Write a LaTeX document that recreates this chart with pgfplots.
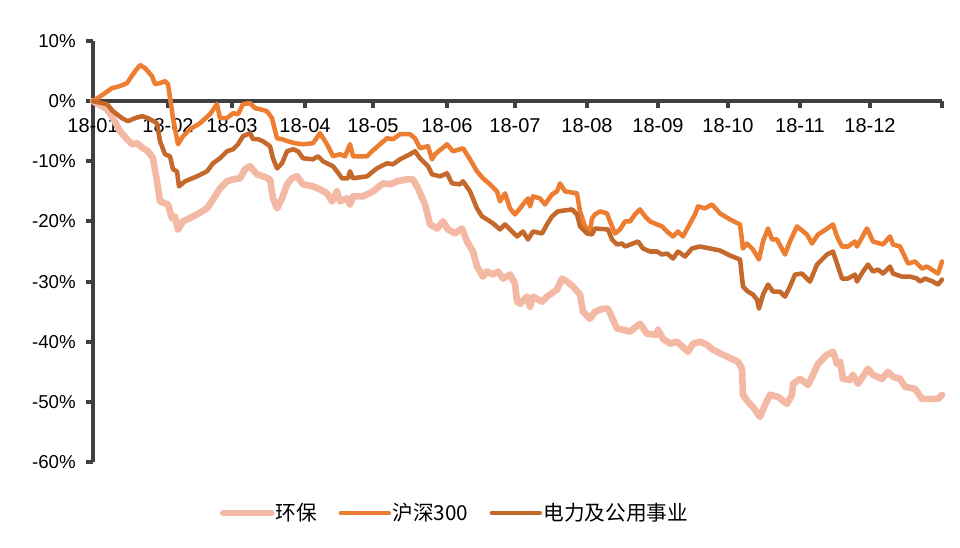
\documentclass[border=0pt]{standalone}
\usepackage{pgfplots}
\pgfplotsset{compat=1.18}
\usepackage{fontspec}
\setmainfont{Liberation Sans}
\newfontfamily\cjk{Noto Sans CJK SC}
\definecolor{cLight}{RGB}{243,185,165}
\definecolor{cOrange}{RGB}{237,125,49}
\definecolor{cBrown}{RGB}{197,104,44}
\definecolor{cAxis}{RGB}{64,64,64}
\begin{document}
\begin{tikzpicture}
\begin{axis}[
  name=ax, at={(0,0)}, anchor=south west,
  scale only axis, width=636.75pt, height=315.75pt,
  xmin=0, xmax=849, ymin=-60, ymax=10,
  axis x line=middle, axis y line=left,
  hide obscured x ticks=false,
  axis line style={-, draw=cAxis, line width=3.4pt},
  xtick style={draw=cAxis, line width=3pt},
  ytick style={draw=cAxis, line width=3pt},
  major tick length=5.5pt,
  tick align=outside,
  xtick={0,75,139,212,280,354,422,494,565,635,707,777,849},
  xticklabels={18-01,18-02,18-03,18-04,18-05,18-06,18-07,18-08,18-09,18-10,18-11,18-12,{}},
  ytick={-60,-50,-40,-30,-20,-10,0,10},
  yticklabel={\pgfmathprintnumber{\tick}\%},
  /pgf/number format/assume math mode=true,
  yticklabel style={font=\fontsize{14}{16}\selectfont, text=black, xshift=-4pt},
  xticklabel style={font=\fontsize{15}{17}\selectfont, text=black, yshift=-4pt},
  clip=false,
  legend columns=3,
  legend style={at={(0.426,-0.121)}, anchor=center, draw=none, fill=none,
    font=\cjk\fontsize{15.5}{17}\selectfont,
    /tikz/every even column/.append style={column sep=15pt},
    nodes={inner xsep=1pt}},
  legend image code/.code={\draw[#1] (0pt,0pt) -- (36pt,0pt);},
  every axis plot/.append style={line join=round, line cap=round},
]
\addplot[cLight, line width=5pt] coordinates {
(0,0) (14,-1.33) (20,-2.83) (27,-5.0) (34,-6.33) (39,-7.17) (44,-7.0) (50,-7.83) (55,-8.33) (60,-9.5)
(64,-13.33) (67,-16.67) (75,-17.17) (79,-19.5) (82,-19.17) (85,-21.33) (90,-20.0) (104,-18.83) (114,-17.83) (120,-16.33)
(127,-14.5) (134,-13.33) (140,-13.0) (147,-12.83) (152,-11.33) (157,-10.83) (164,-12.17) (170,-12.5) (177,-13.0) (180,-16.17)
(184,-17.83) (189,-16.17) (194,-13.83) (199,-12.83) (204,-12.5) (210,-13.83) (220,-14.17) (227,-14.67) (234,-15.33) (239,-16.67)
(244,-15.0) (247,-16.67) (254,-16.17) (257,-17.17) (260,-15.83) (270,-15.83) (280,-15.0) (290,-13.67) (297,-13.83) (304,-13.33)
(314,-13.0) (320,-13.0) (325,-14.5) (332,-17.17) (337,-20.5) (344,-21.17) (350,-20.0) (355,-21.33) (362,-22.0) (369,-21.17)
(374,-23.33) (380,-25.0) (384,-27.5) (390,-29.17) (394,-28.33) (400,-28.83) (405,-28.33) (410,-29.5) (417,-28.83) (422,-30.33)
(424,-33.33) (427,-33.67) (434,-32.5) (437,-34.17) (440,-32.5) (449,-33.33) (454,-32.5) (464,-31.33) (469,-29.5) (474,-30.0)
(480,-30.83) (487,-32.17) (490,-35.0) (497,-36.17) (502,-35.0) (510,-34.5) (515,-34.5) (520,-36.33) (524,-37.83) (530,-38.0)
(537,-38.33) (547,-37.0) (554,-38.67) (564,-38.83) (565,-38.0) (570,-39.5) (577,-40.33) (584,-40.0) (595,-41.67) (600,-40.33)
(607,-40.0) (614,-40.5) (620,-41.33) (630,-42.17) (645,-43.33) (649,-44.5) (650,-48.83) (655,-50.0) (660,-50.83) (662,-51.33)
(667,-52.5) (672,-50.5) (677,-48.83) (685,-49.17) (694,-50.33) (699,-48.83) (700,-47.0) (707,-46.17) (715,-47.17) (720,-45.5)
(725,-43.67) (734,-42.17) (740,-41.67) (744,-43.67) (747,-43.33) (750,-46.17) (757,-46.33) (760,-45.5) (765,-47.0) (775,-44.5)
(780,-45.5) (789,-46.17) (795,-45.0) (800,-45.83) (807,-46.17) (812,-47.5) (822,-47.83) (829,-49.5) (845,-49.5) (849,-48.83)
};
\addlegendentry{环保}
\addplot[cOrange, line width=3.4pt] coordinates {
(0,0) (12,1.33) (19,2.17) (27,2.5) (34,3.0) (40,4.5) (47,6.0) (52,5.5) (59,4.17) (62,2.83)
(67,3.0) (72,3.33) (75,2.83) (80,-2.83) (85,-7.17) (90,-5.83) (97,-4.67) (107,-3.67) (117,-2.17) (124,-0.5)
(127,-2.83) (134,-2.83) (140,-2.0) (145,-2.17) (150,-0.5) (157,-0.33) (162,-1.17) (167,-1.33) (174,-1.67) (179,-2.83)
(184,-6.17) (189,-6.33) (195,-6.67) (202,-7.0) (210,-7.17) (220,-7.0) (227,-5.33) (234,-7.17) (240,-9.17) (247,-8.83)
(252,-9.17) (257,-7.17) (260,-9.17) (274,-9.17) (279,-8.33) (287,-7.17) (294,-6.17) (300,-6.33) (307,-5.5) (317,-5.5)
(322,-6.17) (327,-7.83) (335,-7.5) (339,-9.67) (342,-8.83) (354,-7.17) (360,-8.33) (367,-8.0) (370,-7.83) (377,-9.67)
(384,-11.67) (390,-12.83) (397,-13.83) (404,-15.0) (407,-16.67) (412,-15.33) (417,-17.83) (422,-18.83) (427,-17.83) (430,-17.17)
(435,-16.17) (437,-17.5) (440,-15.83) (447,-16.17) (452,-17.17) (459,-15.5) (464,-15.0) (467,-13.67) (472,-15.0) (484,-15.33)
(487,-18.33) (492,-20.83) (497,-21.67) (499,-19.5) (502,-18.83) (507,-18.33) (514,-18.67) (517,-20.0) (522,-22.0) (527,-21.33)
(532,-20.0) (537,-20.0) (542,-18.83) (547,-18.0) (552,-19.17) (557,-20.0) (564,-20.5) (569,-20.83) (574,-21.67) (580,-22.5)
(585,-21.67) (590,-22.5) (597,-20.33) (602,-18.83) (605,-17.5) (612,-17.83) (619,-17.17) (627,-18.67) (637,-19.67) (647,-20.5)
(650,-24.5) (654,-23.67) (660,-24.67) (666,-26.33) (670,-23.33) (675,-21.17) (679,-23.0) (684,-23.0) (692,-25.5) (697,-23.33)
(704,-20.83) (714,-22.17) (719,-23.67) (725,-22.17) (730,-21.67) (740,-20.5) (744,-22.5) (749,-24.17) (755,-24.17) (762,-23.33)
(764,-24.17) (774,-21.17) (780,-23.33) (790,-23.83) (797,-22.5) (800,-23.83) (807,-24.17) (815,-27.0) (822,-26.67) (829,-27.83)
(834,-27.5) (845,-28.67) (849,-26.67)
};
\addlegendentry{沪深300}
\addplot[cBrown, line width=3.4pt] coordinates {
(0,0) (14,-0.5) (20,-1.67) (29,-2.83) (35,-3.33) (42,-2.83) (49,-2.5) (55,-2.83) (64,-3.67) (67,-6.67)
(72,-8.83) (77,-9.17) (80,-11.33) (84,-11.67) (86,-14.17) (92,-13.33) (104,-12.5) (114,-11.67) (120,-10.33) (127,-9.5)
(134,-8.33) (140,-8.0) (145,-7.17) (150,-5.83) (157,-5.33) (160,-6.33) (165,-6.33) (170,-6.67) (177,-7.5) (180,-9.5)
(184,-11.17) (189,-10.33) (194,-8.33) (200,-8.0) (205,-8.33) (210,-9.5) (220,-9.67) (225,-9.17) (230,-10.0) (240,-10.83)
(244,-11.67) (249,-12.83) (255,-12.83) (257,-11.67) (260,-12.83) (274,-12.5) (284,-11.17) (294,-10.33) (300,-10.5) (307,-9.67)
(317,-8.83) (322,-8.33) (327,-9.5) (335,-10.83) (339,-12.17) (347,-12.5) (354,-12.0) (359,-13.67) (367,-13.83) (370,-13.33)
(377,-15.0) (384,-17.83) (389,-19.17) (394,-19.67) (400,-20.33) (407,-21.33) (412,-20.5) (417,-21.33) (424,-22.5) (430,-21.67)
(435,-23.0) (440,-21.67) (449,-22.0) (454,-20.5) (459,-19.17) (465,-18.33) (479,-18.0) (484,-18.83) (487,-20.83) (494,-22.0)
(499,-22.17) (502,-21.17) (515,-21.33) (519,-23.0) (524,-23.83) (529,-23.67) (532,-24.17) (540,-23.67) (545,-23.33) (550,-24.5)
(557,-25.0) (564,-25.0) (569,-25.5) (574,-25.33) (580,-26.17) (585,-25.0) (592,-25.83) (599,-24.5) (607,-24.17) (617,-24.5)
(627,-24.83) (637,-25.67) (647,-26.33) (650,-30.83) (655,-31.67) (660,-32.17) (664,-33.0) (666,-34.5) (670,-32.17) (675,-30.5)
(680,-31.67) (687,-31.67) (692,-32.5) (697,-30.83) (702,-28.83) (709,-28.67) (717,-30.0) (724,-27.17) (729,-26.33) (734,-25.5)
(740,-25.0) (744,-27.0) (749,-29.5) (755,-29.5) (762,-28.83) (764,-30.0) (770,-28.33) (775,-27.17) (780,-28.33) (785,-28.0)
(790,-28.67) (797,-27.5) (800,-28.67) (809,-29.17) (817,-29.17) (824,-29.5) (827,-30.0) (832,-29.5) (840,-30.0) (845,-30.5)
(849,-29.67)
};
\addlegendentry{电力及公用事业}
\end{axis}
\path[use as bounding box] (-69.75pt,-63.75pt) rectangle (650.25pt,346.5pt);
\end{tikzpicture}
\end{document}
